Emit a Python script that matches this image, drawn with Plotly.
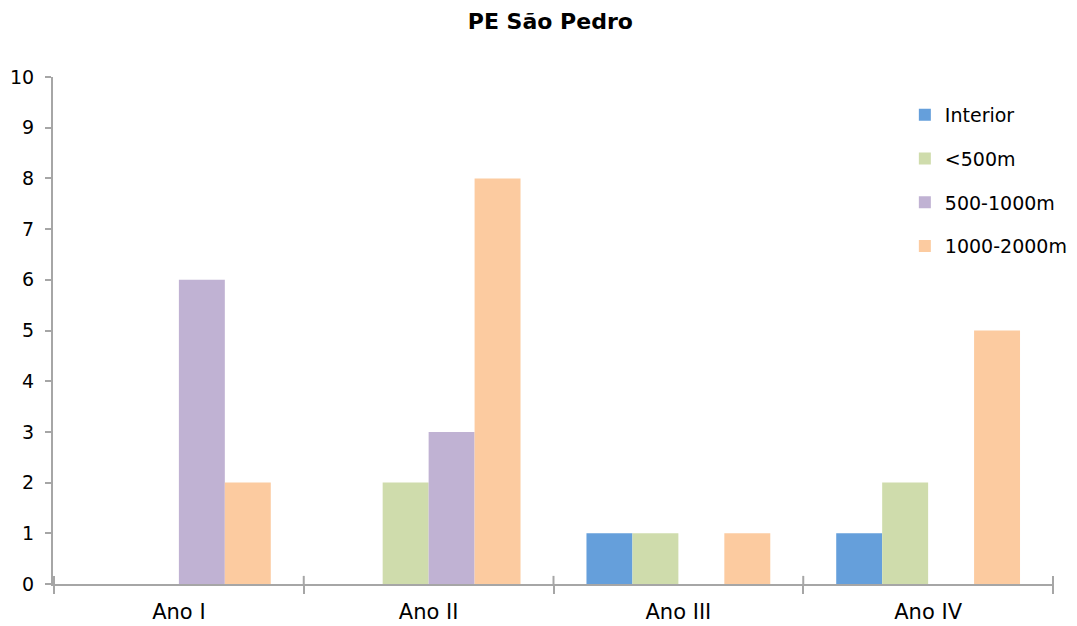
import plotly.graph_objects as go

categories = ["Ano I", "Ano II", "Ano III", "Ano IV"]
series_names = ["Interior", "<500m", "500-1000m", "1000-2000m"]
interior = [0, 0, 1, 1]
lt500 = [0, 2, 1, 2]
m500_1000 = [6, 3, 0, 0]
m1000_2000 = [2, 8, 1, 5]
colors = ["#659FDB", "#CFDCAC", "#C0B2D3", "#FCCBA0"]

values = [interior, lt500, m500_1000, m1000_2000]

fig = go.Figure()
for i, (name, vals) in enumerate(zip(series_names, values)):
    fig.add_trace(go.Bar(
        x=categories, y=vals, name=name,
        marker=dict(color=colors[i], line=dict(width=0)),
        legendgroup=f"g{i}",
    ))

# inner half of the category boundary ticks (crossing the axis)
for k in range(len(categories) + 1):
    fig.add_shape(type="line", xref="x", yref="y", x0=k - 0.5, x1=k - 0.5, y0=0, y1=0.16,
                  line=dict(color="#A6A6A6", width=2), layer="above")

font_family = "'DejaVu Sans', sans-serif"
fig.update_layout(
    width=1077, height=626,
    barmode="group", bargap=0.264, bargroupgap=0,
    plot_bgcolor="white", paper_bgcolor="white",
    margin=dict(l=53, r=23, t=77, b=42, autoexpand=False),
    title=dict(text="<b>PE São Pedro</b>", x=0.511, xanchor="center", y=0.966, yanchor="middle",
               font=dict(family=font_family, size=22, color="black")),
    font=dict(family=font_family, size=19, color="black"),
    legend=dict(x=0.851, y=0.9625, xanchor="left", yanchor="top",
                font=dict(size=19, color="black"), tracegroupgap=16,
                itemwidth=30, bgcolor="rgba(0,0,0,0)"),
    xaxis=dict(showline=True, linecolor="#A6A6A6", linewidth=2, automargin=False,
               ticks="outside", tickson="boundaries", ticklen=8, tickcolor="#A6A6A6", tickwidth=2,
               tickfont=dict(size=21), showgrid=False, ticklabelstandoff=8),
    yaxis=dict(range=[0, 10], dtick=1, showline=True, linecolor="#A6A6A6", linewidth=2, automargin=False,
               ticks="outside", ticklen=6, tickcolor="#A6A6A6", tickwidth=2,
               tickfont=dict(size=19), showgrid=False, zeroline=False, ticklabelstandoff=7),
)

fig.write_html(
    "out.html",
    config={"displayModeBar": False},
    post_script="document.body.style.margin='0';document.body.style.padding='0';"
                "document.documentElement.style.overflow='hidden';document.body.style.overflow='hidden';",
)
